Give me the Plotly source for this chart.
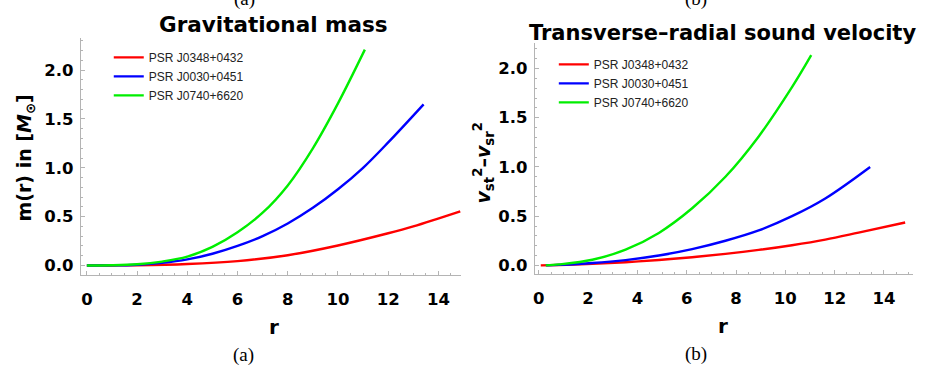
import plotly.graph_objects as go

# ---- data: gravitational mass m(r) ----
names = ["PSR J0348+0432", "PSR J0030+0451", "PSR J0740+6620"]
colors = ["#ff0000", "#0000ff", "#00ee00"]

r_mass_red = [0, 1, 2, 4, 6, 8, 10, 12, 13, 14.87]
m_red = [0, 0.0005, 0.002, 0.015, 0.045, 0.105, 0.205, 0.33, 0.40, 0.554]

r_mass_blue = [0, 1, 2, 3, 4, 5, 6, 7, 8, 9, 10, 11, 12, 13.41]
m_blue = [0, 0.001, 0.008, 0.027, 0.062, 0.12, 0.20, 0.30, 0.43, 0.59, 0.78, 1.00, 1.26, 1.65]

r_mass_green = [0, 1, 2, 3, 4, 5, 6, 7, 8, 9, 10, 11.07]
m_green = [0, 0.002, 0.012, 0.04, 0.09, 0.19, 0.34, 0.54, 0.82, 1.20, 1.66, 2.21]

# ---- data: transverse-radial sound velocity difference ----
r_vel_red = [0.08, 0.82, 2.17, 3.52, 4.87, 6.22, 7.57, 8.92, 10.27, 11.62, 12.97, 14.86]
v_red = [0, 0.004, 0.015, 0.032, 0.055, 0.083, 0.117, 0.157, 0.205, 0.262, 0.333, 0.436]

r_vel_blue = [0.3, 0.82, 2.17, 3.52, 4.87, 6.22, 7.57, 8.92, 10.27, 11.62, 13.44]
v_blue = [0, 0.005, 0.024, 0.054, 0.10, 0.165, 0.25, 0.355, 0.50, 0.68, 1.0]

r_vel_green = [0.28, 0.82, 2.17, 3.52, 4.87, 6.22, 7.57, 8.92, 10.27, 11.05]
v_green = [0, 0.01, 0.057, 0.16, 0.33, 0.58, 0.90, 1.31, 1.81, 2.135]

mass_series = [(r_mass_red, m_red), (r_mass_blue, m_blue), (r_mass_green, m_green)]
vel_series = [(r_vel_red, v_red), (r_vel_blue, v_blue), (r_vel_green, v_green)]

W, H = 933, 366
SANS = "DejaVu Sans"
SERIF = "Liberation Serif"
AXIS_GREY = "#b4b4b4"

fig = go.Figure()

for (xs, ys), name, col in zip(mass_series, names, colors):
    fig.add_trace(go.Scatter(x=xs, y=ys, mode="lines", name=name,
                             line=dict(color=col, width=2.4, shape="spline", smoothing=1.0),
                             xaxis="x", yaxis="y", legend="legend"))
for (xs, ys), name, col in zip(vel_series, names, colors):
    fig.add_trace(go.Scatter(x=xs, y=ys, mode="lines", name=name,
                             line=dict(color=col, width=2.4, shape="spline", smoothing=1.0),
                             xaxis="x2", yaxis="y2", legend="legend2"))


def px_x(p):
    return p / W


def px_y(p):
    return 1 - p / H


tickfont = dict(family=SANS, size=16.5, color="black", weight="bold")


def xaxis_style(dom, rng, anchor):
    return dict(domain=dom, range=rng, anchor=anchor, showgrid=False, zeroline=False,
                showline=True, linecolor=AXIS_GREY, linewidth=1,
                ticks="inside", ticklen=4, tickcolor=AXIS_GREY, tickwidth=1,
                dtick=2, tick0=0, tickfont=tickfont, ticklabelstandoff=9,
                minor=dict(ticks="inside", ticklen=2, dtick=0.5, tick0=0,
                           tickcolor=AXIS_GREY, showgrid=False))


def yaxis_style(dom, rng, anchor):
    return dict(domain=dom, range=rng, anchor=anchor, showgrid=False, zeroline=False,
                showline=True, linecolor=AXIS_GREY, linewidth=1,
                ticks="inside", ticklen=4, tickcolor=AXIS_GREY, tickwidth=1,
                dtick=0.5, tick0=0, tickformat=".1f", tickfont=tickfont,
                ticklabelstandoff=3,
                minor=dict(ticks="inside", ticklen=2, dtick=0.1, tick0=0,
                           tickcolor=AXIS_GREY, showgrid=False))


legend_common = dict(font=dict(family="Liberation Sans", size=12, color="#222"),
                     bgcolor="rgba(0,0,0,0)", borderwidth=0,
                     xanchor="left", yanchor="top", tracegroupgap=0,
                     itemwidth=30)

fig.update_layout(
    width=W, height=H,
    margin=dict(l=0, r=0, t=0, b=0),
    paper_bgcolor="white", plot_bgcolor="white",
    showlegend=True,
    xaxis=xaxis_style([px_x(79), px_x(460)], [-0.24, 14.9], "y"),
    yaxis=yaxis_style([px_y(276), px_y(38)], [-0.10, 2.33], "x"),
    xaxis2=xaxis_style([px_x(534), px_x(913)], [-0.16, 15.18], "y2"),
    yaxis2=yaxis_style([px_y(275), px_y(43)], [-0.09, 2.26], "x2"),
    legend=dict(x=px_x(107), y=px_y(43), **legend_common),
    legend2=dict(x=px_x(553), y=px_y(50), **legend_common),
)

annotations = [
    # panel titles
    dict(text="Gravitational mass", x=px_x(272), y=px_y(25),
         font=dict(family=SANS, size=21.5, color="black", weight="bold")),
    dict(text="Transverse\u2013radial sound velocity", x=px_x(722), y=px_y(33),
         font=dict(family=SANS, size=21, color="black", weight="bold")),
    # axis titles
    dict(text="r", x=px_x(273), y=px_y(328),
         font=dict(family=SANS, size=20, color="black", weight="bold")),
    dict(text="r", x=px_x(723), y=px_y(327),
         font=dict(family=SANS, size=20, color="black", weight="bold")),
    dict(text="m(r) in [<i>M</i><sub>\u2299</sub>]", x=px_x(24), y=px_y(158),
         textangle=-90,
         font=dict(family=SANS, size=19, color="black", weight="bold")),
    dict(text="<i>v</i><sub>st</sub><sup>2</sup>\u2013<i>v</i><sub>sr</sub><sup>2</sup>",
         x=px_x(483), y=px_y(163), textangle=-90,
         font=dict(family=SANS, size=19, color="black", weight="bold")),
    # sub-figure captions
    dict(text="(a)", x=px_x(243), y=px_y(-1),
         font=dict(family=SERIF, size=19, color="black")),
    dict(text="(b)", x=px_x(695), y=px_y(-1),
         font=dict(family=SERIF, size=19, color="black")),
    dict(text="(a)", x=px_x(242), y=px_y(356),
         font=dict(family=SERIF, size=19, color="black")),
    dict(text="(b)", x=px_x(695), y=px_y(355),
         font=dict(family=SERIF, size=19, color="black")),
]
for a in annotations:
    a.update(xref="paper", yref="paper", showarrow=False,
             xanchor="center", yanchor="middle")
fig.update_layout(annotations=annotations)

fig.write_html("out.html")
